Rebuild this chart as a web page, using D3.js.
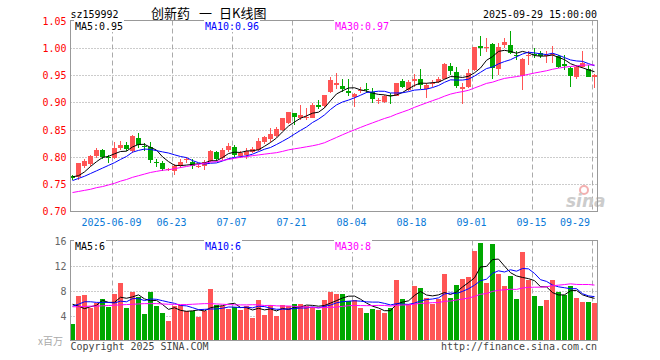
<!DOCTYPE html>
<html><head><meta charset="utf-8">
<script src="https://cdn.jsdelivr.net/npm/d3@7"></script>
<style>body{margin:0;background:#fff}svg{display:block}</style>
</head><body><svg id="c" width="660" height="360"></svg>
<script>
// ---------------- DATA ----------------
const dates = ["05-28","05-29","05-30","06-03","06-04","06-05","06-06","06-09","06-10","06-11","06-12","06-13","06-16","06-17","06-18","06-19","06-20","06-23","06-24","06-25","06-26","06-27","06-30","07-01","07-02","07-03","07-04","07-07","07-08","07-09","07-10","07-11","07-14","07-15","07-16","07-17","07-18","07-21","07-22","07-23","07-24","07-25","07-28","07-29","07-30","07-31","08-01","08-04","08-05","08-06","08-07","08-08","08-11","08-12","08-13","08-14","08-15","08-18","08-19","08-20","08-21","08-22","08-25","08-26","08-27","08-28","08-29","09-01","09-02","09-03","09-04","09-05","09-08","09-09","09-10","09-11","09-12","09-15","09-16","09-17","09-18","09-19","09-22","09-23","09-24","09-25","09-26","09-29"];
const open  = [0.764,0.762,0.783,0.786,0.801,0.812,0.800,0.798,0.816,0.822,0.810,0.834,0.819,0.818,0.791,0.788,0.776,0.774,0.782,0.794,0.791,0.782,0.782,0.793,0.809,0.797,0.813,0.818,0.802,0.803,0.809,0.813,0.827,0.833,0.839,0.850,0.862,0.880,0.871,0.872,0.872,0.896,0.893,0.920,0.933,0.931,0.921,0.910,0.921,0.925,0.920,0.904,0.901,0.913,0.912,0.940,0.923,0.940,0.943,0.925,0.934,0.938,0.944,0.968,0.956,0.925,0.928,0.959,1.004,1.000,1.008,0.961,1.005,1.006,0.988,0.948,0.987,0.990,0.991,0.986,0.987,0.985,0.971,0.963,0.946,0.966,0.961,0.946];
const high  = [0.766,0.789,0.796,0.803,0.816,0.815,0.803,0.828,0.829,0.827,0.840,0.843,0.826,0.827,0.795,0.792,0.779,0.786,0.795,0.799,0.795,0.787,0.794,0.812,0.811,0.816,0.825,0.821,0.811,0.816,0.817,0.834,0.839,0.853,0.855,0.872,0.882,0.881,0.895,0.890,0.899,0.905,0.914,0.946,0.954,0.944,0.943,0.917,0.928,0.935,0.926,0.908,0.913,0.917,0.936,0.944,0.941,0.952,0.962,0.935,0.941,0.947,0.972,0.972,0.966,0.935,0.962,1.003,1.023,1.018,1.009,1.009,1.018,1.031,0.995,0.981,0.994,1.000,0.994,0.994,1.004,0.988,0.988,0.966,0.969,0.994,0.969,0.952];
const low   = [0.757,0.757,0.780,0.783,0.797,0.795,0.789,0.796,0.812,0.810,0.807,0.816,0.810,0.789,0.781,0.774,0.773,0.767,0.780,0.788,0.777,0.779,0.775,0.791,0.793,0.794,0.809,0.799,0.798,0.796,0.806,0.811,0.823,0.828,0.837,0.847,0.861,0.859,0.868,0.868,0.871,0.887,0.890,0.917,0.924,0.920,0.911,0.891,0.917,0.918,0.899,0.897,0.899,0.898,0.911,0.926,0.921,0.929,0.925,0.909,0.929,0.935,0.943,0.950,0.927,0.898,0.926,0.958,0.985,0.992,0.944,0.951,1.000,0.989,0.978,0.923,0.969,0.981,0.981,0.972,0.972,0.963,0.960,0.929,0.944,0.963,0.946,0.927];
const close = [0.761,0.788,0.792,0.801,0.812,0.800,0.798,0.816,0.822,0.815,0.839,0.821,0.817,0.794,0.790,0.777,0.777,0.783,0.791,0.795,0.783,0.783,0.791,0.810,0.796,0.812,0.820,0.804,0.807,0.810,0.814,0.829,0.836,0.842,0.851,0.871,0.882,0.874,0.876,0.873,0.896,0.891,0.914,0.942,0.935,0.925,0.917,0.916,0.923,0.924,0.906,0.905,0.912,0.911,0.935,0.929,0.938,0.944,0.932,0.933,0.935,0.943,0.970,0.957,0.931,0.929,0.954,1.002,1.001,1.002,0.963,1.002,1.012,0.991,0.985,0.980,0.988,0.988,0.985,0.987,0.989,0.966,0.967,0.948,0.966,0.972,0.947,0.950];
// volume, millions
const volume = [2.6,7.1,7.25,5.2,6.0,6.6,5.4,7.4,9.2,5.2,7.7,7.0,4.2,7.7,5.5,4.4,3.1,5.5,5.65,4.7,4.8,3.8,4.7,8.2,5.65,5.5,5.1,5.3,4.9,5.5,3.6,6.45,4.05,5.65,3.9,5.65,5.5,5.9,5.8,5.5,5.4,4.85,6.45,7.7,7.5,7.5,6.3,6.55,5.2,4.4,5.0,4.85,4.4,5.2,9.65,6.6,5.9,8.7,8.4,6.8,5.9,6.7,10.6,6.8,8.85,9.9,10.2,14.35,15.6,9.2,15.4,10.6,8.7,10.35,6.6,14.2,9.65,7.1,5.5,6.45,9.65,7.7,7.25,8.7,6.8,6.1,6.1,6.0];
const ma5Head   = [0.763,0.765,0.772,0.782];
const ma10Head  = [0.756,0.760,0.764,0.769,0.774,0.779,0.784,0.789,0.795];
const ma30Head  = [0.734,0.736,0.738,0.740,0.743,0.745,0.748,0.751,0.755,0.758,0.762,0.765,0.768,0.771,0.773,0.775,0.776,0.778,0.780,0.782,0.784,0.786,0.788,0.790,0.791,0.793,0.795,0.797,0.799];
const vma5Head  = [5.8,5.5,5.1,5.4];
const vma10Head = [5.5,5.8,6.2,6.2,6.1,6.1,6.1,6.0,6.3];
const vma30Head = [5.4,5.4,5.45,5.5,5.5,5.55,5.6,5.65,5.7,5.75,5.8,5.85,5.9,5.9,5.9,5.85,5.8,5.8,5.75,5.75,5.8,5.85,5.9,5.9,5.85,5.8,5.75,5.7,5.7];
const priceTicks = [1.05,1.00,0.95,0.90,0.85,0.80,0.75,0.70];
const volTicks = [16,12,8,4];
const xTickDates  = ["06-09","06-23","07-07","07-21","08-04","08-18","09-01","09-15","09-29"];
const xTickLabels = ["2025-06-09","06-23","07-07","07-21","08-04","08-18","09-01","09-15","09-29"];
const code = "sz159992";
const titleParts = ["创新药","一","日K线图"];
const stamp = "2025-09-29 15:00:00";
const priceLegend = ["MA5:0.95","MA10:0.96","MA30:0.97"];
const volLegend = ["MA5:6","MA10:6","MA30:8"];
const volUnit = "x百万";
const copyright = "Copyright 2025 SINA.COM";
const siteUrl = "http://finance.sina.com.cn";

// ---------------- HELPERS ----------------
function ma(arr, n, head){
  return arr.map((v,i)=> i < n-1 ? head[i] : d3.mean(arr.slice(i-n+1,i+1)));
}
const RED="#ff5555", GREEN="#00a800", MA_COL=["#000000","#0000ff","#ff00ff"];
const MONO="'DejaVu Sans Mono','Liberation Mono',monospace";
const svg = d3.select("#c");
function mono(g, xx, yy, s, color, anchor){
  return g.append("text").attr("x",xx).attr("y",yy).text(s)
    .attr("font-family",MONO).attr("font-size",11).attr("fill",color)
    .attr("text-anchor",anchor||"start")
    .attr("textLength", s.length*6).attr("lengthAdjust","spacingAndGlyphs");
}

// ---------------- SCALES ----------------
const FL=70.5, FR=597.5;
const x = d3.scaleBand().domain(dates).range([69,597]);
const y = d3.scaleLinear().domain([0.70,1.05]).range([211,21]);
const yv = d3.scaleLinear().domain([0,16]).range([340.5,240.5]);
const cx = d => x(d)+3.5;
const gx = d => x(d)+1.5;
const px = v => Math.round(v)+0.5;

// ---------------- GRID ----------------
const grid = svg.append("g");
priceTicks.slice(1,-1).forEach(t=>{
  grid.append("line").attr("x1",FL).attr("x2",FR).attr("y1",px(y(t))).attr("y2",px(y(t)))
    .attr("stroke","#999").attr("stroke-dasharray","1,2");
});
volTicks.slice(1).forEach(t=>{
  grid.append("line").attr("x1",FL).attr("x2",FR).attr("y1",px(yv(t))).attr("y2",px(yv(t)))
    .attr("stroke","#999").attr("stroke-dasharray","1,2");
});
xTickDates.forEach(d=>{
  [[20.5,211.5],[240.5,340.5]].forEach(([a,b])=>{
    grid.append("line").attr("x1",gx(d)).attr("x2",gx(d)).attr("y1",a).attr("y2",b)
      .attr("stroke","#aaa").attr("stroke-dasharray","5,3");
  });
});

// watermark
const wm = svg.append("g");
wm.append("circle").attr("cx",584).attr("cy",190).attr("r",4).attr("fill","none").attr("stroke","#f3b0b0").attr("stroke-width",2);
wm.append("text").attr("x",566).attr("y",207).text("sina").attr("font-family","'DejaVu Sans',sans-serif")
  .attr("font-size",17).attr("font-weight","bold").attr("font-style","italic").attr("fill","#cccccc");

// ---------------- CANDLES ----------------
const cg = svg.append("g").attr("shape-rendering","crispEdges");
dates.forEach((d,i)=>{
  const up = close[i] >= open[i];
  const col = up ? RED : GREEN;
  cg.append("line").attr("x1",cx(d)).attr("x2",cx(d)).attr("y1",y(high[i])).attr("y2",y(low[i])).attr("stroke",col);
  const t = Math.round(y(Math.max(open[i],close[i]))), b = Math.round(y(Math.min(open[i],close[i])));
  cg.append("rect").attr("x",x(d)+1).attr("width",5).attr("y",t).attr("height",Math.max(1,b-t)).attr("fill",col);
});
// volume bars
dates.forEach((d,i)=>{
  const col = close[i] >= open[i] ? RED : GREEN;
  const t = Math.round(yv(volume[i]));
  cg.append("rect").attr("x",x(d)+1).attr("width",5).attr("y",t).attr("height",340-t).attr("fill",col);
});

// ---------------- MA LINES ----------------
const pm = [ma(close,5,ma5Head), ma(close,10,ma10Head), ma(close,30,ma30Head)];
const vm = [ma(volume,5,vma5Head), ma(volume,10,vma10Head), ma(volume,30,vma30Head)];
const lp = d3.line().x((v,i)=>cx(dates[i])).y(v=>y(v));
const lv = d3.line().x((v,i)=>cx(dates[i])).y(v=>yv(v));
pm.forEach((s,k)=> svg.append("path").attr("d",lp(s)).attr("fill","none").attr("stroke",MA_COL[k]).attr("stroke-width",1));
vm.forEach((s,k)=> svg.append("path").attr("d",lv(s)).attr("fill","none").attr("stroke",MA_COL[k]).attr("stroke-width",1));

// ---------------- FRAMES ----------------
svg.append("rect").attr("x",FL).attr("y",20.5).attr("width",FR-FL).attr("height",191).attr("fill","none").attr("stroke","#999");
svg.append("rect").attr("x",FL).attr("y",240.5).attr("width",FR-FL).attr("height",100).attr("fill","none").attr("stroke","#999");

// ---------------- TEXT ----------------
const tg = svg.append("g");
mono(tg, 70.5, 17.5, code, "#000");
mono(tg, 597, 17.5, stamp, "#000", "end");
const title = tg.append("text").attr("y",17.5).attr("font-family","'Noto Sans CJK SC',sans-serif").attr("font-size",13).attr("fill","#000");
[151,199,219].forEach((xx,k)=> title.append("tspan").attr("x",xx).text(titleParts[k]));
[75,205,335].forEach((xx,k)=>{
  [[30,priceLegend[k]],[250,volLegend[k]]].forEach(([yy,s])=>{
    tg.append("rect").attr("x",xx-1).attr("y",yy-10).attr("width",s.length*6+2).attr("height",12).attr("fill","#fff");
    mono(tg, xx, yy, s, MA_COL[k]);
  });
});
priceTicks.forEach(t=> mono(tg, 66.5, Math.round(y(t))+4, d3.format(".2f")(t), "#ff0000", "end"));
volTicks.forEach(t=> mono(tg, 66.5, Math.round(yv(t))+4, String(t), "#666", "end"));
xTickDates.forEach((d,k)=>{
  const s = xTickLabels[k], w = s.length*6;
  let c = gx(d)-1;
  if (c + w/2 > 590) c = 590 - w/2;
  mono(tg, c, 226, s, "#0a7ad8", "middle");
});
tg.append("text").attr("x",38).attr("y",345).text(volUnit).attr("font-family","'Noto Sans CJK SC',sans-serif")
  .attr("font-size",10).attr("fill","#aaa");
mono(tg, 70.5, 350, copyright, "#444");
mono(tg, 597, 350, siteUrl, "#444", "end");
</script></body></html>
